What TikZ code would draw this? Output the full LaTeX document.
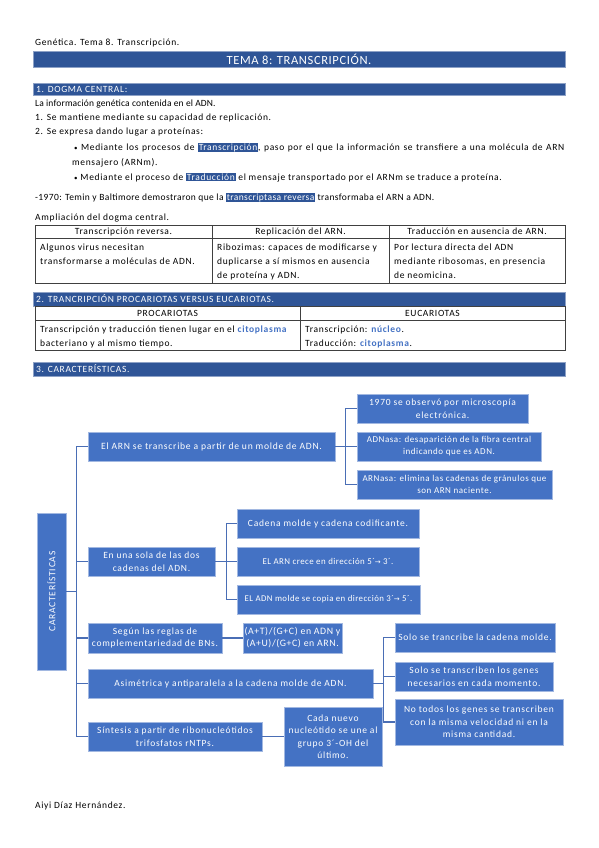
\documentclass[tikz,border=0pt]{standalone}
\usepackage{fontspec}
\setmainfont{Carlito}
\newfontfamily\djv{DejaVu Sans}
\usepackage{xcolor}
\definecolor{secblue}{HTML}{2F5597}
\definecolor{boxblue}{HTML}{4472C4}
\definecolor{lineblue}{HTML}{4A6EB5}
\definecolor{wordblue}{HTML}{4472C4}
\newcommand{\hlw}[1]{{\setlength{\fboxsep}{0.7pt}\colorbox{secblue}{\textcolor{white}{#1}}}}
\newcommand{\bw}[1]{\textcolor{wordblue}{\textbf{#1}}}
\newcommand{\arr}{{\djv\fontsize{7}{8}\selectfont →}}
\newcommand{\bodyf}{\fontsize{9.5}{11}\selectfont\addfontfeature{LetterSpace=7}}
\newcommand{\bxf}{\fontsize{9.5}{12.5}\selectfont\addfontfeature{LetterSpace=8}}
\newcommand{\bxs}{\fontsize{9}{12}\selectfont\addfontfeature{LetterSpace=6}}
\tikzset{
  txt/.style={anchor=base west, inner sep=0pt, font=\bodyf},
  ctxt/.style={anchor=base, inner sep=0pt, font=\bodyf},
  bartxt/.style={anchor=west, inner sep=0pt, text=white, font=\bodyf},
  bar/.style={fill=secblue, draw=secblue!55!white, line width=0.5pt},
  tbl/.style={draw=black!75, line width=0.5pt},
  bx/.style={fill=boxblue, draw=boxblue!50!white, line width=0.6pt, text=white, align=center, inner sep=1pt, font=\bxf},
  ln/.style={draw=lineblue, line width=1.3pt},
}
\newcommand{\bxnode}[7][]{\node[bx,#1, minimum width={(#5-#3)*1pt}, minimum height={(#6-#4)*1pt}] (#2) at ({(#3+#5)/2},{(#4+#6)/2}) {#7};}
\begin{document}
\begin{tikzpicture}[x=1pt,y=-1pt]
\useasboundingbox[fill=white] (0,0) rectangle (599,848);
% header
\node[txt] (hdr) at (35,46) {Genética. Tema 8. Transcripción.};
\draw[bar] (33,51) rectangle (565,67);
\node[anchor=center, inner sep=0pt, text=white, font=\fontsize{12.5}{14}\selectfont\addfontfeature{LetterSpace=5}] (title) at (299,59) {TEMA 8: TRANSCRIPCIÓN.};
% section 1
\draw[bar] (33,83) rectangle (565,95);
\node[bartxt] (s1) at (36,89) {1. DOGMA CENTRAL:};
\node[txt, font=\fontsize{9.5}{11}\selectfont\addfontfeature{LetterSpace=1.5}] (l1) at (35,107) {La información genética contenida en el ADN.};
\node[txt] (l2) at (35,121) {1. Se mantiene mediante su capacidad de replicación.};
\node[txt] (l3) at (35,135) {2. Se expresa dando lugar a proteínas:};
\node[txt, font=\fontsize{9.5}{11}\selectfont\addfontfeature{LetterSpace=6.5}] (l4) at (74,150) {\hbox to 490pt{{\fontsize{7}{8}\selectfont•} Mediante los procesos de \hlw{Transcripción}, paso por el que la información se transfiere a una molécula de ARN}};
\node[txt] (l5) at (72,165) {mensajero (ARNm).};
\node[txt] (l6) at (74,180) {{\fontsize{7}{8}\selectfont•} Mediante el proceso de \hlw{Traducción} el mensaje transportado por el ARNm se traduce a proteína.};
\node[txt, font=\fontsize{9.5}{11}\selectfont\addfontfeature{LetterSpace=4}] (l7) at (35,200) {-1970: Temin y Baltimore demostraron que la \hlw{transcriptasa reversa} transformaba el ARN a ADN.};
\node[txt] (l8) at (35,220) {Ampliación del dogma central.};
% table 1
\draw[tbl] (35,225) rectangle (565,283);
\draw[tbl] (35,238) -- (565,238);
\draw[tbl] (212,225) -- (212,283);
\draw[tbl] (389,225) -- (389,283);
\node[ctxt] (t1a) at (123.5,234.5) {Transcripción reversa.};
\node[ctxt] (t1b) at (300.5,234.5) {Replicación del ARN.};
\node[ctxt] (t1c) at (477,234.5) {Traducción en ausencia de ARN.};
\node[txt] (t1d) at (40,250) {Algunos virus necesitan};
\node[txt] (t1e) at (40,264) {transformarse a moléculas de ADN.};
\node[txt] (t1f) at (217,250) {Ribozimas: capaces de modificarse y};
\node[txt] (t1g) at (217,264) {duplicarse a sí mismos en ausencia};
\node[txt] (t1h) at (217,278) {de proteína y ADN.};
\node[txt] (t1i) at (394,250) {Por lectura directa del ADN};
\node[txt] (t1j) at (394,264) {mediante ribosomas, en presencia};
\node[txt] (t1k) at (394,278) {de neomicina.};
% section 2
\draw[bar] (33,292) rectangle (565,306);
\node[bartxt] (s2) at (36,299) {2. TRANCRIPCIÓN PROCARIOTAS VERSUS EUCARIOTAS.};
\draw[tbl] (35,306) rectangle (565,350);
\draw[tbl] (35,320) -- (565,320);
\draw[tbl] (300,306) -- (300,350);
\node[ctxt] (t2a) at (167.5,316.5) {PROCARIOTAS};
\node[ctxt] (t2b) at (432.5,316.5) {EUCARIOTAS};
\node[txt] (t2c) at (40,332) {Transcripción y traducción tienen lugar en el \bw{citoplasma}};
\node[txt] (t2d) at (40,346) {bacteriano y al mismo tiempo.};
\node[txt] (t2e) at (305,332) {Transcripción: \bw{núcleo}.};
\node[txt] (t2f) at (305,346) {Traducción: \bw{citoplasma}.};
% section 3
\draw[bar] (33,362) rectangle (565,376);
\node[bartxt] (s3) at (36,369) {3. CARACTERÍSTICAS.};
% diagram
\node[bx, minimum width=157pt, minimum height=29pt, rotate=90] (car) at (51.5,591.5) {CARACTERÍSTICAS};
\bxnode[font=\fontsize{9.6}{12.5}\selectfont\addfontfeature{LetterSpace=7.5}]{b1}{88}{432}{335}{461}{El ARN se transcribe a partir de un molde de ADN.}
\bxnode{s1a}{357}{394}{528}{423}{1970 se observó por microscopía\\electrónica.}
\bxnode[font=\bxs]{s1b}{357}{432}{541}{461}{ADNasa: desaparición de la fibra central\\indicando que es ADN.}
\bxnode[font=\bxs]{s1c}{357}{470}{552}{499}{ARNasa: elimina las cadenas de gránulos que\\son ARN naciente.}
\bxnode{b2}{88}{547}{215}{576}{En una sola de las dos\\cadenas del ADN.}
\bxnode{s2a}{237}{509}{419}{538}{Cadena molde y cadena codificante.}
\bxnode[font=\fontsize{8.9}{12}\selectfont\addfontfeature{LetterSpace=5}]{s2b}{237}{547}{419}{576}{EL ARN crece en dirección 5´\arr{} 3´.}
\bxnode[font=\fontsize{8.8}{12}\selectfont\addfontfeature{LetterSpace=5}]{s2c}{237}{585}{420}{614}{EL ADN molde se copia en dirección 3´\arr{} 5´.}
\bxnode{b3}{88}{623}{222}{653}{Según las reglas de\\complementariedad de BNs.}
\bxnode[font=\fontsize{9.8}{12}\selectfont\addfontfeature{LetterSpace=6}]{s3}{243}{623}{342}{653}{(A+T)/(G+C) en ADN y\\(A+U)/(G+C) en ARN.}
\bxnode{b4}{88}{669}{373}{698}{Asimétrica y antiparalela a la cadena molde de ADN.}
\bxnode{s4a}{395}{623}{555}{652}{Solo se trancribe la cadena molde.}
\bxnode{s4b}{395}{662}{553}{691}{Solo se transcriben los genes\\necesarios en cada momento.}
\bxnode{s4c}{395}{699}{563}{745}{No todos los genes se transcriben\\con la misma velocidad ni en la\\misma cantidad.}
\bxnode{b5}{88}{722}{262}{751}{Síntesis a partir de ribonucleótidos\\trifosfatos rNTPs.}
\bxnode{s5}{284}{707}{382}{766}{Cada nuevo\\nucleótido se une al\\grupo 3´-OH del\\último.}
% connectors
\draw[ln] (car.south) -- ++(11,0);
\draw[ln] (b1.west) -- ++(-11,0) |- (b5.west);
\draw[ln] (b2.west) -- ++(-11,0);
\draw[ln] (b3.west) -- ++(-11,0);
\draw[ln] (b4.west) -- ++(-11,0);
\draw[ln] (b1.east) -- ++(11,0);
\draw[ln] (s1a.west) -- ++(-11,0) |- (s1c.west);
\draw[ln] (s1b.west) -- ++(-11,0);
\draw[ln] (b2.east) -- ++(12,0);
\draw[ln] (s2a.west) -- ++(-10,0) |- (s2c.west);
\draw[ln] (s2b.west) -- ++(-10,0);
\draw[ln] (b3.east) -- (s3.west);
\draw[ln] (b4.east) -- ++(11,0);
\draw[ln] (s4a.west) -- ++(-11,0) |- (s4c.west);
\draw[ln] (s4b.west) -- ++(-11,0);
\draw[ln] (b5.east) -- (s5.west);
% footer
\node[txt] (ftr) at (35,808) {Aiyi Díaz Hernández.};
\end{tikzpicture}
\end{document}
